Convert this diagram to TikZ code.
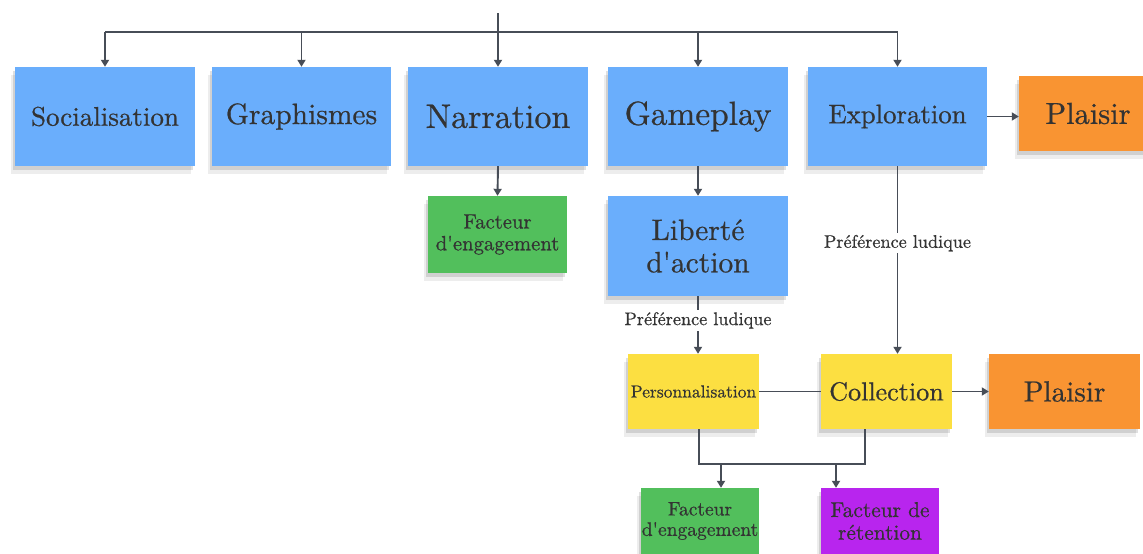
\documentclass[tikz,border=0pt]{standalone}
\usepackage{fontspec}
\setmainfont{lmroman10-regular.otf}[FakeBold=0.6]
\usetikzlibrary{arrows.meta,shadows,calc}
\definecolor{noteblue}{HTML}{6AAEFC}
\definecolor{notegreen}{HTML}{52BF5C}
\definecolor{noteyellow}{HTML}{FCDF41}
\definecolor{noteorange}{HTML}{F99432}
\definecolor{notepurple}{HTML}{B825EE}
\definecolor{ink}{HTML}{333333}
\definecolor{wire}{HTML}{474D57}
\newcommand{\fs}[1]{\fontsize{#1}{1.2\dimexpr #1pt\relax}\selectfont}
\newcommand{\apo}{\textquotesingle}
\tikzset{
  note/.style={draw=none, inner sep=0pt, text=ink, align=center,
    general shadow={fill=black, opacity=0.07, shadow xshift=-4pt, shadow yshift=-8pt},
    general shadow={fill=black, opacity=0.12, shadow xshift=-2pt, shadow yshift=-4pt}},
  wireline/.style={draw=wire, line width=1.9pt},
  arr/.style={wireline, -{Triangle[length=7pt,width=8pt]}},
  lbl/.style={fill=white, inner sep=2pt, text=ink, font=\fs{18.2}},
}
\begin{document}
\begin{tikzpicture}[x=1pt,y=-1pt]
\useasboundingbox (0,0) rectangle (1143,554);
\fill[white] (0,0) rectangle (1143,554);

% first row of topics
\node[note, fill=noteblue, minimum width=180pt, minimum height=99pt, font=\fs{27}] (soc) at (105,116.5) {Socialisation};
\node[note, fill=noteblue, minimum width=179pt, minimum height=99pt, font=\fs{29.5}] (gra) at (301.5,116.5) {Graphismes};
\node[note, fill=noteblue, minimum width=180pt, minimum height=99pt, font=\fs{34}] (nar) at (498,116.5) {Narration};
\node[note, fill=noteblue, minimum width=180pt, minimum height=99pt, font=\fs{33.4}] (gam) at (698,116.5) {Gameplay};
\node[note, fill=noteblue, minimum width=179pt, minimum height=99pt, font=\fs{26.8}] (exp) at (897.5,116.5) {Exploration};
\node[note, fill=noteorange, minimum width=138pt, minimum height=75pt, font=\fs{30.4}] (pl1) at (1088,113.5) {Plaisir};

% second level
\node[note, fill=notegreen, minimum width=139pt, minimum height=77pt, font=\fs{20.7}] (fe1) at (497.5,234.5) {Facteur\\[-3pt]d\apo engagement};
\node[note, fill=noteblue, minimum width=180pt, minimum height=100pt, font=\fs{29.5}] (lib) at (698,246) {Libert\'e\\[-3pt]d\apo action};

% third level
\node[note, fill=noteyellow, minimum width=131pt, minimum height=75pt, font=\fs{17.5}] (per) at (693.5,391.5) {Personnalisation};
\node[note, fill=noteyellow, minimum width=131pt, minimum height=75pt, font=\fs{26.1}] (col) at (886.5,391.5) {Collection};
\node[note, fill=noteorange, minimum width=151pt, minimum height=75pt, font=\fs{29.2}] (pl2) at (1064.5,391.5) {Plaisir};

% outcomes
\node[note, fill=notegreen, minimum width=118pt, minimum height=66pt, font=\fs{19.5}] (fe2) at (700,521) {Facteur\\[-3pt]d\apo engagement};
\node[note, fill=notepurple, minimum width=118pt, minimum height=66pt, font=\fs{21.4}] (ret) at (880,521) {Facteur de\\[-3pt]r\'etention};

% root bus
\coordinate (root) at (498,13);
\coordinate (bus) at (498,32);
\draw[arr] (root) -- (nar.north);
\draw[wireline] (soc.north |- bus) -- (exp.north |- bus);
\foreach \n in {soc,gra,gam,exp} \draw[arr] (\n.north |- bus) -- (\n.north);

% links between notes
\draw[arr] (exp.east) -- (exp.east -| pl1.west);
\draw[arr] (nar.south) -- (fe1.north);
\draw[arr] (gam.south) -- (lib.north);
\draw[arr] (lib.south) -- (lib.south |- per.north) node[lbl, pos=0.42] {Pr\'ef\'erence ludique};
\draw[arr] (exp.south) -- (exp.south |- col.north) node[lbl, pos=0.41] {Pr\'ef\'erence ludique};
\draw[wireline] (per.east) -- (col.west);
\draw[arr] (col.east) -- (col.east -| pl2.west);

% merge towards the outcomes
\coordinate (jl) at (699,464);
\coordinate (jr) at (865,464);
\coordinate (ta) at (721,464);
\coordinate (tb) at (836,464);
\draw[wireline] (per.south -| jl) -- (jl) -- (jr) -- (col.south -| jr);
\draw[arr] (ta) -- (ta |- fe2.north);
\draw[arr] (tb) -- (tb |- ret.north);
\end{tikzpicture}
\end{document}
